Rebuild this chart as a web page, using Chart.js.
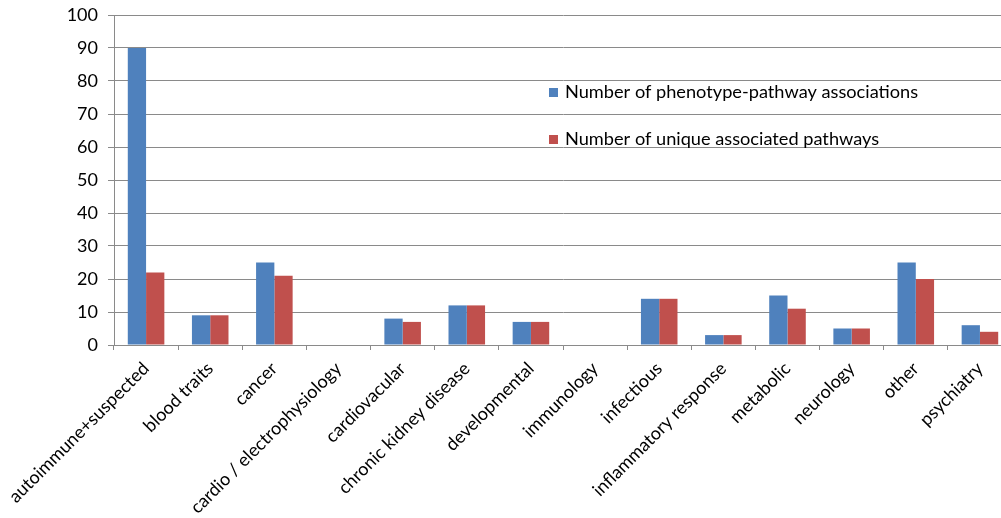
<!DOCTYPE html>
<html>
<head>
<meta charset="utf-8">
<script src="https://cdn.jsdelivr.net/npm/chart.js@4.4.1/dist/chart.umd.min.js"></script>
<style>
  html, body { margin: 0; padding: 0; background: #fff; overflow: hidden; }
  #wrap { width: 1012px; height: 518px; }
</style>
</head>
<body>
<div id="wrap"><canvas id="c" width="1012" height="518"></canvas></div>
<script>
// Phenotype categories on the x axis
const categories = [
  'autoimmune+suspected', 'blood traits', 'cancer', 'cardio / electrophysiology',
  'cardiovacular', 'chronic kidney disease', 'developmental', 'immunology',
  'infectious', 'inflammatory response', 'metabolic', 'neurology', 'other', 'psychiatry'
];
// Series values per category
const associations = [90, 9, 25, 0, 8, 12, 7, 0, 14, 3, 15, 5, 25, 6];
const uniquePathways = [22, 9, 21, 0, 7, 12, 7, 0, 14, 3, 11, 5, 20, 4];
const seriesNames = ['Number of phenotype-pathway associations', 'Number of unique associated pathways'];
// Y axis range and tick spacing
const yMin = 0, yMax = 100, yStep = 10;

const FONT = 'Lato, "Open Sans", sans-serif';
const GRID = '#8a8a8a';

// Legend drawn inside the plot area, as two stacked rows
const insideLegend = {
  id: 'insideLegend',
  afterDraw(chart) {
    const { ctx, chartArea } = chart;
    const x0 = chartArea.left + 435;
    const rows = [chartArea.top + 78, chartArea.top + 125];
    ctx.save();
    ctx.font = '18.2px ' + FONT;
    ctx.textBaseline = 'middle';
    ctx.textAlign = 'left';
    chart.data.datasets.forEach((ds, i) => {
      const y = rows[i];
      ctx.fillStyle = ds.backgroundColor;
      ctx.fillRect(x0, y - 5, 9, 9);
      ctx.fillStyle = '#000';
      ctx.fillText(ds.label, x0 + 16, y - 1);
    });
    ctx.restore();
  }
};

new Chart(document.getElementById('c'), {
  type: 'bar',
  data: {
    labels: categories,
    datasets: [
      { label: seriesNames[0], data: associations, backgroundColor: '#4F81BD' },
      { label: seriesNames[1], data: uniquePathways, backgroundColor: '#C0504D' }
    ]
  },
  options: {
    responsive: false,
    animation: false,
    devicePixelRatio: 1,
    layout: { padding: { top: 15, right: 0, left: 0, bottom: 0 } },
    datasets: { bar: { barPercentage: 1.0, categoryPercentage: 0.57 } },
    plugins: { legend: { display: false }, tooltip: { enabled: false } },
    scales: {
      x: {
        offset: true,
        grid: { display: true, offset: true, drawOnChartArea: false, drawTicks: true, tickLength: 5, color: GRID },
        border: { display: true, color: GRID, width: 1 },
        ticks: {
          autoSkip: false, minRotation: 45, maxRotation: 45, padding: 8,
          color: '#000', font: { family: FONT, size: 18 }
        },
        afterFit(scale) { scale.height = 173; }
      },
      y: {
        min: yMin, max: yMax,
        grid: { color: GRID, drawTicks: true, tickLength: 6 },
        border: { display: true, color: GRID, width: 1 },
        ticks: { stepSize: yStep, padding: 10, color: '#000', font: { family: FONT, size: 18 } },
        afterFit(scale) { scale.width = 114; scale.paddingTop = 0; scale.paddingBottom = 0; }
      }
    }
  },
  plugins: [insideLegend]
});
</script>
</body>
</html>
